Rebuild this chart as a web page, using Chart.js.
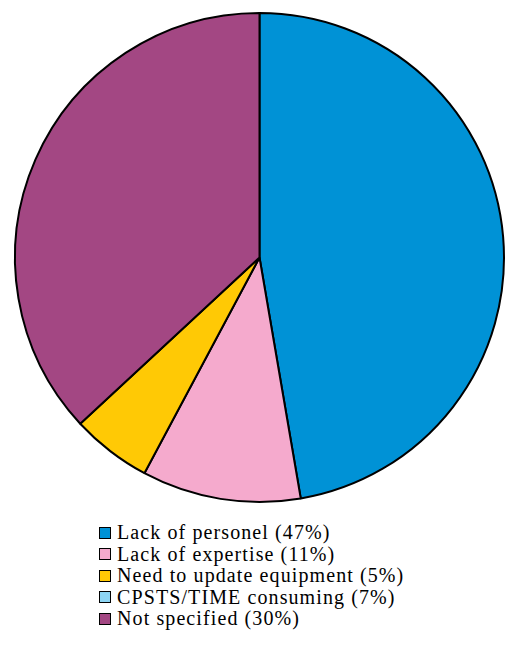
<!DOCTYPE html>
<html>
<head>
<meta charset="utf-8">
<script src="https://cdn.jsdelivr.net/npm/chart.js@4"></script>
<style>
  body { margin: 0; background: #fff; }
  #wrap { position: relative; width: 507px; height: 649px; }
  #chartBox { position: absolute; left: 0; top: 0; width: 507px; height: 507px; }
  #legend { position: absolute; left: 99px; top: 522px; margin: 0; padding: 0; list-style: none;
            font-family: "Liberation Serif", "DejaVu Serif", serif; font-size: 20px; color: #000; letter-spacing: 1.1px; }
  #legend li { height: 21.5px; line-height: 21.5px; white-space: nowrap; display: flex; align-items: center; }
  #legend span.box { display: inline-block; width: 10px; height: 10px; border: 1px solid #000; margin-right: 6px; }
</style>
</head>
<body>
<div id="wrap">
  <div id="chartBox"><canvas id="pieChart"></canvas></div>
  <ul id="legend"></ul>
</div>
<script>
// categories and legend text
const categories = ['Lack of personel', 'Lack of expertise', 'Need to update equipment', 'CPSTS/TIME consuming', 'Not specified'];
const legendPercent = [47, 11, 5, 7, 30];
// slice sizes as drawn in the picture (the 7% slice is not visible)
const sliceValues = [47.3, 10.5, 5.3, 0, 36.9];
const sliceColors = ['#0092d6', '#f5aacd', '#ffc905', '#8dd5f4', '#a34783'];

const pieChart = document.querySelector('#pieChart');
const legend = document.querySelector('#legend');

new Chart(pieChart, {
    type: 'pie',
    data: {
        labels: categories,
        datasets: [{
            data: sliceValues,
            backgroundColor: sliceColors,
            borderColor: '#000',
            borderWidth: 2
        }]
    },
    options: {
        responsive: true,
        maintainAspectRatio: false,
        animation: false,
        layout: { padding: { left: 14, right: 2, top: 12, bottom: 4 } },
        plugins: {
            legend: { display: false },
            tooltip: { enabled: false }
        }
    }
});

for (let i = 0; i < categories.length; i++) {
    legend.innerHTML += '<li><span class="box" style="background:' + sliceColors[i] + '"></span>' +
        categories[i] + ' (' + legendPercent[i] + '%)</li>';
}
</script>
</body>
</html>
